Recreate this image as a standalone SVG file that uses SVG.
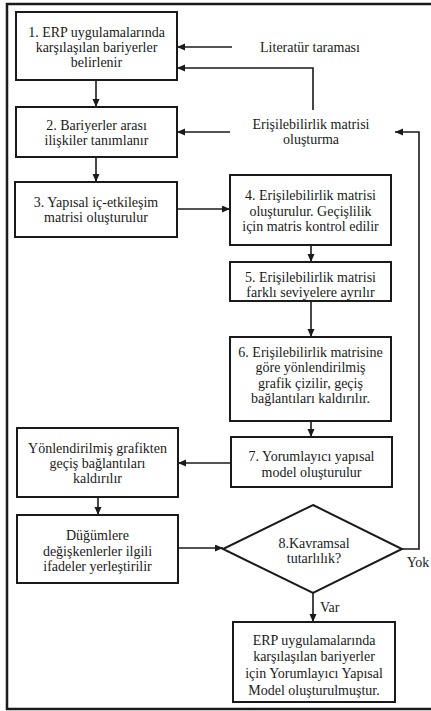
<svg xmlns="http://www.w3.org/2000/svg" width="431" height="711" viewBox="0 0 431 711">
  <style>
    .box { fill: #fff; stroke: #1a1a1a; stroke-width: 2; }
    .frame { fill: none; stroke: #1a1a1a; stroke-width: 2.5; }
    .link { fill: none; stroke: #1a1a1a; stroke-width: 1.6; }
  </style>
  <defs>
    <marker id="arrow" markerUnits="userSpaceOnUse" markerWidth="8" markerHeight="8" refX="8" refY="3.5" orient="auto">
      <path d="M0,0 L8,3.5 L0,7 z" fill="#1a1a1a"/>
    </marker>
  </defs>
  <rect width="431" height="711" fill="#fff"/>

  <!-- outer frame (open on the right) -->
  <path class="frame" d="M431,4 H7 V709 H431"/>

  <g id="connectors">
    <path class="link" d="M96,80 V107" marker-end="url(#arrow)"/>
    <path class="link" d="M232,47 H177" marker-end="url(#arrow)"/>
    <path class="link" d="M313,110 V68 H177" marker-end="url(#arrow)"/>
    <path class="link" d="M230,132 H177" marker-end="url(#arrow)"/>
    <path class="link" d="M96,157 V182" marker-end="url(#arrow)"/>
    <path class="link" d="M177,209 H230" marker-end="url(#arrow)"/>
    <path class="link" d="M311,245 V262" marker-end="url(#arrow)"/>
    <path class="link" d="M311,301 V337" marker-end="url(#arrow)"/>
    <path class="link" d="M311,421 V437" marker-end="url(#arrow)"/>
    <path class="link" d="M231,463 H178" marker-end="url(#arrow)"/>
    <path class="link" d="M98,497 V515" marker-end="url(#arrow)"/>
    <path class="link" d="M178,548 H223" marker-end="url(#arrow)"/>
    <path class="link" d="M313,593 V622" marker-end="url(#arrow)"/>
    <path class="link" d="M402,549 H419 V132 H395" marker-end="url(#arrow)"/>
  </g>

  <g font-family="Liberation Serif" font-size="14" text-anchor="middle" fill="#1a1a1a">
    <g id="label-literatur">
      <text x="310" y="52">Literatür taraması</text>
    </g>
    <g id="label-erisilebilirlik">
      <text x="311" y="129">Erişilebilirlik matrisi</text>
      <text x="311" y="144">oluşturma</text>
    </g>

    <g id="step1">
      <rect class="box" x="16" y="12" width="161" height="68"/>
      <text x="96.5" y="37">1. ERP uygulamalarında</text>
      <text x="96.5" y="52">karşılaşılan bariyerler</text>
      <text x="96.5" y="67">belirlenir</text>
    </g>
    <g id="step2">
      <rect class="box" x="16" y="107" width="161" height="50"/>
      <text x="96.5" y="130">2. Bariyerler arası</text>
      <text x="96.5" y="145">ilişkiler tanımlanır</text>
    </g>
    <g id="step3">
      <rect class="box" x="15" y="182" width="162" height="55"/>
      <text x="96" y="207">3. Yapısal iç-etkileşim</text>
      <text x="96" y="222">matrisi oluşturulur</text>
    </g>
    <g id="step4">
      <rect class="box" x="230" y="175" width="161" height="70"/>
      <text x="310.5" y="200">4. Erişilebilirlik matrisi</text>
      <text x="310.5" y="216">oluşturulur. Geçişlilik</text>
      <text x="310.5" y="231">için matris kontrol edilir</text>
    </g>
    <g id="step5">
      <rect class="box" x="230" y="262" width="161" height="39"/>
      <text x="310.5" y="282">5. Erişilebilirlik matrisi</text>
      <text x="310.5" y="297">farklı seviyelere ayrılır</text>
    </g>
    <g id="step6">
      <rect class="box" x="230" y="337" width="161" height="84"/>
      <text x="310.5" y="357">6. Erişilebilirlik matrisine</text>
      <text x="310.5" y="372">göre yönlendirilmiş</text>
      <text x="310.5" y="388">grafik çizilir, geçiş</text>
      <text x="310.5" y="403">bağlantıları kaldırılır.</text>
    </g>
    <g id="step7">
      <rect class="box" x="231" y="437" width="161" height="50"/>
      <text x="311.5" y="461">7. Yorumlayıcı yapısal</text>
      <text x="311.5" y="477">model oluşturulur</text>
    </g>
    <g id="remove-links">
      <rect class="box" x="17" y="428" width="161" height="69"/>
      <text x="97.5" y="453">Yönlendirilmiş grafikten</text>
      <text x="97.5" y="468">geçiş bağlantıları</text>
      <text x="97.5" y="483">kaldırılır</text>
    </g>
    <g id="place-statements">
      <rect class="box" x="17" y="515" width="161" height="68"/>
      <text x="97.5" y="540">Düğümlere</text>
      <text x="97.5" y="556">değişkenlerler ilgili</text>
      <text x="97.5" y="571">ifadeler yerleştirilir</text>
    </g>
    <g id="step8">
      <polygon class="box" points="313,505 402,549 313,593 223,549"/>
      <text x="314" y="548">8.Kavramsal</text>
      <text x="314" y="563">tutarlılık?</text>
    </g>
    <g id="label-yok">
      <text x="418" y="567">Yok</text>
    </g>
    <g id="label-var">
      <text x="320" y="612" text-anchor="start">Var</text>
    </g>
    <g id="result">
      <rect class="box" x="233" y="622" width="162" height="80"/>
      <text x="314" y="645">ERP uygulamalarında</text>
      <text x="314" y="661">karşılaşılan bariyerler</text>
      <text x="314" y="678">için Yorumlayıcı Yapısal</text>
      <text x="314" y="695">Model oluşturulmuştur.</text>
    </g>
  </g>
</svg>
